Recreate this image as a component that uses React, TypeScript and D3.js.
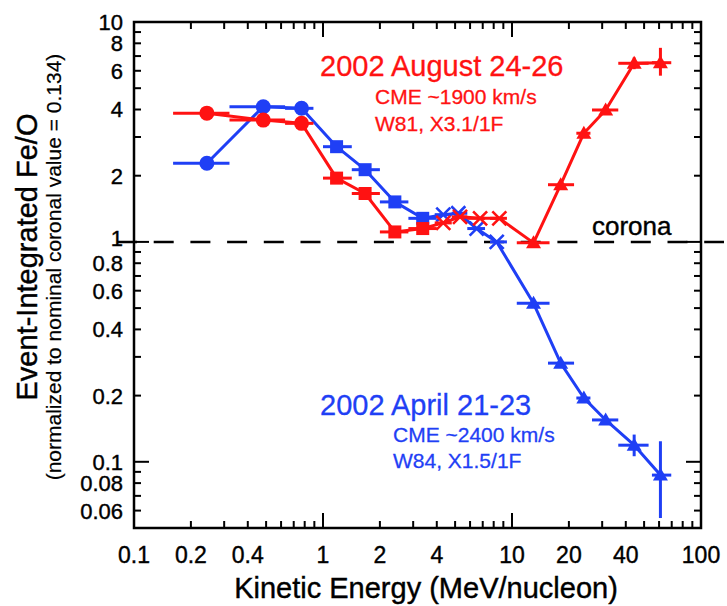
import React from 'react';
import * as d3 from 'd3';

// energy bins (MeV/nucleon) and Fe/O ratios
const circleE = [0.243, 0.483, 0.77];
const circleLo = [0.161, 0.32, 0.63];
const circleHi = [0.32, 0.63, 0.89];
const squareE = [1.18, 1.67, 2.4, 3.37];
const squareLo = [1.0, 1.42, 2.0, 2.83];
const squareHi = [1.42, 2.0, 2.83, 4.0];
const crossLo = [3.9, 4.8, 5.8, 7.65];
const crossHi = [4.8, 5.8, 7.2, 9.4];
const triE = [13.0, 18.1, 24.0, 31.3, 44.3, 61.0];
const triLo = [10.6, 15.5, 21.9, 26.5, 36.5, 55];
const triHi = [15.8, 21.3, 26, 36.5, 52.8, 69.6];

// 2002 August 24-26 (red)
const augCircle = [3.85, 3.58, 3.46];
const augSquare = [1.95, 1.66, 1.11, 1.15];
const augCrossE = [4.33, 5.31, 6.78, 8.57];
const augCross = [1.22, 1.3, 1.28, 1.28];
const augTri = [0.99, 1.82, 3.12, 3.98, 6.49, 6.53];
const augTriErrLo = [0.99, 1.82, 3.12, 3.98, 6.1, 5.7];
const augTriErrHi = [0.99, 1.82, 3.12, 3.98, 6.9, 7.63];

// 2002 April 21-23 (blue)
const aprCircle = [2.28, 4.12, 4.05];
const aprSquare = [2.71, 2.13, 1.52, 1.28];
const aprCrossE = [4.33, 5.2, 6.5, 8.3];
const aprCross = [1.33, 1.35, 1.15, 1.0];
const aprTri = [0.526, 0.281, 0.195, 0.155, 0.119, 0.087];
const aprTriErrLo = [0.526, 0.281, 0.195, 0.155, 0.106, 0.0555];
const aprTriErrHi = [0.526, 0.281, 0.195, 0.155, 0.133, 0.124];

const xTickLabels = [0.1, 0.2, 0.4, 1, 2, 4, 10, 20, 40, 100];
const yTickLabels = [0.06, 0.08, 0.1, 0.2, 0.4, 0.6, 0.8, 1, 2, 4, 6, 8, 10];

const RED = '#ff1212';
const BLUE = '#1f3ff5';
const FONT = '"Liberation Sans", Arial, Helvetica, sans-serif';

const left = 134, right = 701, top = 22, bottom = 528;

const x = d3.scaleLog().domain([0.1, 100]).range([left, right]);
const y = d3.scaleLog().domain([0.05, 10]).range([bottom, top]);

type Pt = { e: number; v: number; lo: number; hi: number; elo: number; ehi: number; m: string };

function buildSeries(circ: number[], sq: number[], crE: number[], cr: number[], tri: number[], tLo: number[], tHi: number[]) {
  const pts: Pt[] = [];
  circ.forEach((v, i) => pts.push({ e: circleE[i], v, lo: v, hi: v, elo: circleLo[i], ehi: circleHi[i], m: 'circle' }));
  sq.forEach((v, i) => pts.push({ e: squareE[i], v, lo: v, hi: v, elo: squareLo[i], ehi: squareHi[i], m: 'square' }));
  cr.forEach((v, i) => pts.push({ e: crE[i], v, lo: v, hi: v, elo: crossLo[i], ehi: crossHi[i], m: 'cross' }));
  tri.forEach((v, i) => pts.push({ e: triE[i], v, lo: tLo[i], hi: tHi[i], elo: triLo[i], ehi: triHi[i], m: 'tri' }));
  return pts;
}

const august = buildSeries(augCircle, augSquare, augCrossE, augCross, augTri, augTriErrLo, augTriErrHi);
const april = buildSeries(aprCircle, aprSquare, aprCrossE, aprCross, aprTri, aprTriErrLo, aprTriErrHi);

function Marker({ p, color }: { p: Pt; color: string }) {
  const cx = x(p.e), cy = y(p.v);
  if (p.m === 'circle') return <circle cx={cx} cy={cy} r={7.5} fill={color} />;
  if (p.m === 'square') return <rect x={cx - 6.5} y={cy - 6.5} width={13} height={13} fill={color} />;
  if (p.m === 'tri')
    return <path d={`M${cx - 7.5},${cy + 5.5}L${cx + 7.5},${cy + 5.5}L${cx},${cy - 7.5}Z`} fill={color} />;
  return (
    <path d={`M${cx - 7},${cy - 7}L${cx + 7},${cy + 7}M${cx - 7},${cy + 7}L${cx + 7},${cy - 7}`} stroke={color} strokeWidth={2.6} />
  );
}

function Series({ pts, color }: { pts: Pt[]; color: string }) {
  const line = d3.line<Pt>().x((d) => x(d.e)).y((d) => y(d.v));
  return (
    <g>
      <path d={line(pts) || ''} fill="none" stroke={color} strokeWidth={3} strokeLinejoin="round" />
      {pts.map((p, i) => (
        <g key={i}>
          <line x1={x(p.elo)} x2={x(p.ehi)} y1={y(p.v)} y2={y(p.v)} stroke={color} strokeWidth={3} />
          {p.lo !== p.hi && <line x1={x(p.e)} x2={x(p.e)} y1={y(p.lo)} y2={y(p.hi)} stroke={color} strokeWidth={3} />}
          <Marker p={p} color={color} />
        </g>
      ))}
    </g>
  );
}

export default function App() {
  const xTicks = x.ticks();
  const yTicks = y.ticks();
  const isMajor = (v: number) => Math.abs(Math.log10(v) - Math.round(Math.log10(v))) < 1e-6;

  return (
    <svg width={727} height={606} style={{ position: 'absolute', left: 0, top: 0, background: '#fff' }} fontFamily={FONT}>
      <rect width={727} height={606} fill="#fff" />

      {/* ticks on all four sides */}
      <g stroke="#000" strokeWidth={2}>
        {xTicks.map((t, i) => {
          const len = isMajor(t) ? 15 : 7;
          return (
            <g key={i}>
              <line x1={x(t)} x2={x(t)} y1={bottom} y2={bottom - len} />
              <line x1={x(t)} x2={x(t)} y1={top} y2={top + len} />
            </g>
          );
        })}
        {yTicks.map((t, i) => {
          const len = isMajor(t) ? 15 : 7;
          return (
            <g key={i}>
              <line x1={left} x2={left + len} y1={y(t)} y2={y(t)} />
              <line x1={right} x2={right - len} y1={y(t)} y2={y(t)} />
            </g>
          );
        })}
      </g>
      <rect x={left} y={top} width={right - left} height={bottom - top} fill="none" stroke="#000" strokeWidth={2.5} />

      {/* coronal reference */}
      <line x1={117} x2={724} y1={y(1)} y2={y(1)} stroke="#000" strokeWidth={2.5} strokeDasharray="20 16.7" />

      <g stroke="#000" strokeWidth={0.4}>
        <text x={592} y={235} fontSize={26} fill="#000">corona</text>
        {xTickLabels.map((t) => (
          <text key={t} x={x(t)} y={563} fontSize={23} textAnchor="middle" fill="#000">{t}</text>
        ))}
        {yTickLabels.map((t) => (
          <text key={t} x={123} y={y(t) - (t === 1 ? 4 : 0)} dy="0.36em" fontSize={22} textAnchor="end" fill="#000">{t}</text>
        ))}
        <text x={426} y={598} fontSize={29} textAnchor="middle" fill="#000">Kinetic Energy (MeV/nucleon)</text>
        <text transform="translate(37,257) rotate(-90)" fontSize={29} textAnchor="middle" fill="#000">Event-Integrated Fe/O</text>
        <text transform="translate(61,267) rotate(-90)" fontSize={21} textAnchor="middle" fill="#000" strokeWidth={0.2}>
          (normalized to nominal coronal value = 0.134)
        </text>
      </g>

      <Series pts={april} color={BLUE} />
      <Series pts={august} color={RED} />

      <g fill={RED} stroke={RED} strokeWidth={0.3}>
        <text x={320} y={76} fontSize={29}>2002 August 24-26</text>
        <text x={375} y={104} fontSize={21}>CME ~1900 km/s</text>
        <text x={375} y={131} fontSize={21}>W81, X3.1/1F</text>
      </g>
      <g fill={BLUE} stroke={BLUE} strokeWidth={0.3}>
        <text x={320} y={415} fontSize={29}>2002 April 21-23</text>
        <text x={393} y={442} fontSize={21}>CME ~2400 km/s</text>
        <text x={393} y={468} fontSize={21}>W84, X1.5/1F</text>
      </g>
    </svg>
  );
}
